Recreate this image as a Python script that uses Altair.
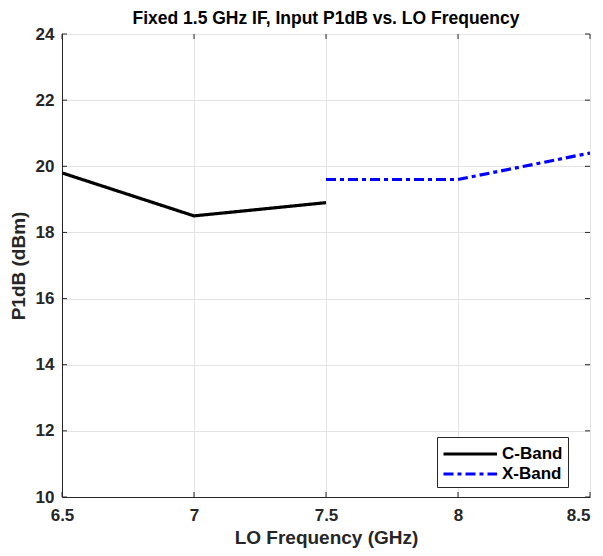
import altair as alt
import pandas as pd

c_freq = [6.5, 7.0, 7.5]
c_p1db = [19.8, 18.5, 18.9]
x_freq = [7.5, 8.0, 8.5]
x_p1db = [19.6, 19.6, 20.4]
series_names = ["C-Band", "X-Band"]
x_ticks = [6.5, 7.0, 7.5, 8.0, 8.5]
y_ticks = [10, 12, 14, 16, 18, 20, 22, 24]

df = pd.DataFrame({
    "freq": c_freq + x_freq,
    "p1db": c_p1db + x_p1db,
    "band": [series_names[0]] * len(c_freq) + [series_names[1]] * len(x_freq),
})
xt = pd.DataFrame({"t": x_ticks})
yt = pd.DataFrame({"t": y_ticks})

W, H = 528, 463
FONT = "Liberation Sans"
AX = "#262626"

xs = alt.Scale(domain=[6.5, 8.5], nice=False, zero=False)
ys = alt.Scale(domain=[10, 24], nice=False, zero=False)

common = dict(labelFont=FONT, labelFontSize=17, labelFontWeight="bold", labelColor=AX,
              titleFont=FONT, titleFontSize=19, titleFontWeight="bold", titleColor=AX,
              domainColor=AX, domainWidth=1, grid=True, gridColor="#e3e3e3", tickSize=0,
              labelFlush=False, labelOverlap=False)
x_axis = alt.Axis(values=x_ticks, format="~g", title="LO Frequency (GHz)",
                  labelPadding=10, titlePadding=5,
                  labelAlign={"condition": {"test": f"datum.value >= {x_ticks[-1]}", "value": "right"},
                              "value": "center"},
                  **common)
y_axis = alt.Axis(values=y_ticks, title="P1dB (dBm)", labelPadding=8,
                  titlePadding=7, **common)

lines = alt.Chart(df).mark_line(strokeWidth=3.2, clip=True).encode(
    x=alt.X("freq:Q", scale=xs, axis=x_axis),
    y=alt.Y("p1db:Q", scale=ys, axis=y_axis),
    color=alt.Color("band:N", scale=alt.Scale(domain=series_names, range=["#000000", "#0000ff"]),
                    legend=alt.Legend(title=None, orient="none", legendX=375, legendY=403,
                                      strokeColor=AX, fillColor="white", padding=5,
                                      symbolType="M-1,0H4.1", symbolSize=441, symbolStrokeWidth=3,
                                      labelFontSize=17, labelFont=FONT, labelFontWeight="bold",
                                      labelColor="#000000", rowPadding=0, labelOffset=36,
                                      cornerRadius=0)),
    strokeDash=alt.StrokeDash("band:N", scale=alt.Scale(domain=series_names, range=[[1, 0], [10, 4, 4, 4]]),
                              legend=None),
)

tl = 5
xb = alt.Chart(xt).mark_rule(color=AX, strokeWidth=1).encode(
    x=alt.X("t:Q", scale=xs, axis=x_axis), y=alt.value(H), y2=alt.value(H - tl))
xtop = alt.Chart(xt).mark_rule(color=AX, strokeWidth=1).encode(
    x=alt.X("t:Q", scale=xs, axis=x_axis), y=alt.value(0), y2=alt.value(tl))
yl = alt.Chart(yt).mark_rule(color=AX, strokeWidth=1).encode(
    y=alt.Y("t:Q", scale=ys, axis=y_axis), x=alt.value(0), x2=alt.value(tl))
yr = alt.Chart(yt).mark_rule(color=AX, strokeWidth=1).encode(
    y=alt.Y("t:Q", scale=ys, axis=y_axis), x=alt.value(W), x2=alt.value(W - tl))

chart = alt.layer(lines, xb, xtop, yl, yr).properties(
    width=W, height=H,
    autosize=alt.AutoSizeParams(type="none"),
    padding={"left": 54, "top": 26, "right": 5, "bottom": 51},
    title=alt.TitleParams("Fixed 1.5 GHz IF, Input P1dB vs. LO Frequency",
                          font=FONT, fontSize=17.5, fontWeight="bold", color="#000000",
                          anchor="middle", offset=-2),
).configure_view(stroke=AX, strokeWidth=1).configure(background="white")

chart.save("out.html", embed_options={"renderer": "svg", "actions": False})
